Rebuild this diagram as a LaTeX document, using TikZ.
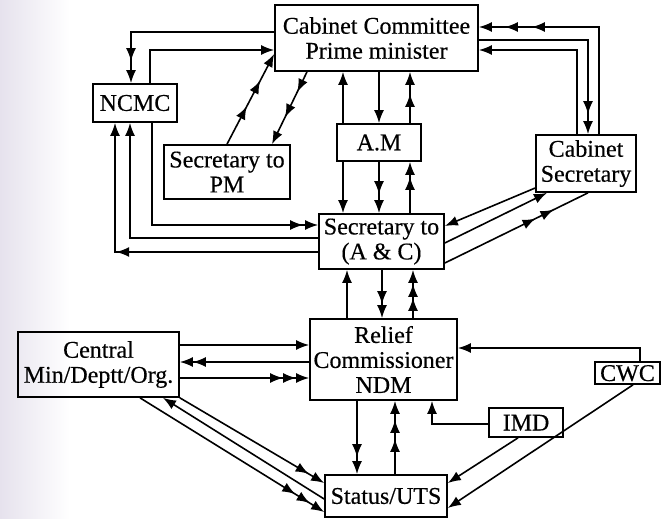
\documentclass[tikz,border=0pt]{standalone}
\usepackage{fontspec}
\setmainfont{Liberation Serif}[FakeBold=0.4]
\usetikzlibrary{arrows.meta,decorations.markings,calc}
\definecolor{pagel}{RGB}{230,226,237}
\tikzset{myt/.tip={Latex[length=13pt,width=10pt]}}
\begin{document}
\begin{tikzpicture}[x=1pt,y=-1pt,
  line width=1.6pt,
  box/.style={draw, line width=1.7pt, inner sep=0pt, align=center,
    font=\fontsize{24}{25}\selectfont},
  arr/.style={-{myt}},
  mk/.style={postaction={decorate,decoration={markings,
    mark=at position #1 with {\arrow{myt}}}}}
]
\useasboundingbox (0,0) rectangle (661,519);
\fill[left color=pagel, right color=white, draw=none] (0,0) rectangle (70,519);

% nodes
\node[box, minimum width=203pt, minimum height=66pt] (cc) at (376.5,38) {Cabinet Committee\\Prime minister};
\node[box, minimum width=84pt, minimum height=38pt] (ncmc) at (135,103) {NCMC};
\node[box, minimum width=126pt, minimum height=54pt] (spm) at (227,172) {Secretary to\\PM};
\node[box, minimum width=84pt, minimum height=37pt] (am) at (379,142.5) {A.M};
\node[box, minimum width=100pt, minimum height=57pt] (cabsec) at (586,163.5) {Cabinet\\Secretary};
\node[box, minimum width=125pt, minimum height=55pt] (sac) at (381.5,241.5) {Secretary to\\(A \& C)};
\node[box, minimum width=147pt, minimum height=81pt] (rc) at (383.5,359.5) {Relief\\Commissioner\\NDM};
\node[box, minimum width=161pt, minimum height=65pt] (cent) at (98.5,364.5) {Central\\Min/Deptt/Org.};
\node[box, minimum width=65pt, minimum height=22pt, text height=16pt, text depth=0pt] (cwc) at (627.5,373) {CWC};
\node[box, minimum width=74pt, minimum height=29pt, text height=16pt, text depth=0pt] (imd) at (526,422.5) {IMD};
\node[box, minimum width=122pt, minimum height=42pt] (sts) at (386,496) {Status/UTS};

% CC <-> NCMC
\draw[arr, mk=-22pt] (cc.west |- 0,32) -| (ncmc.north -| 131,0);
\draw[arr] (ncmc.north -| 150,0) |- (cc.west |- 0,50);
% SPM <-> CC
\draw[arr, mk=-30pt, mk=-59pt] (spm.north -| 227,0) -- (cc.west |- 0,54);
\draw[arr, mk=-30pt, mk=-58pt] (cc.south -| 307,0) -- (spm.north -| 272,0);
% CC <-> AM
\draw[arr] (am.north -| 343,0) -- (cc.south -| 343,0);
\draw[arr] (cc.south -| 379,0) -- (am.north -| 379,0);
\draw[arr, mk=-22pt] (am.north -| 410,0) -- (cc.south -| 410,0);
% AM <-> SAC
\draw[arr] (am.south -| 343,0) -- (sac.north -| 343,0);
\draw[arr, mk=-19pt] (am.south -| 379,0) -- (sac.north -| 379,0);
\draw[arr, mk=-15pt] (sac.north -| 410,0) -- (am.south -| 410,0);
% SAC <-> RC
\draw[arr] (rc.north -| 347,0) -- (sac.south -| 347,0);
\draw[arr, mk=-14pt] (sac.south -| 382,0) -- (rc.north -| 382,0);
\draw[arr, mk=-14pt, mk=-28pt] (rc.north -| 413,0) -- (sac.south -| 413,0);
% NCMC <-> SAC
\draw[arr, mk=-15pt] (ncmc.south -| 152,0) |- (sac.west |- 0,225);
\draw[arr] (sac.west |- 0,238) -| (ncmc.south -| 130,0);
\draw[arr, mk=202pt] (sac.west |- 0,252) -| (ncmc.south -| 115,0);
% CabSec <-> SAC
\draw[arr] (cabsec.west |- 0,188) -- (sac.east |- 0,226);
\draw[arr] (sac.east |- 0,243) -- (cabsec.south -| 547,0);
\draw[mk=101pt, mk=121pt] (sac.east |- 0,263) -- (cabsec.south -| 588,0);
% CC <-> CabSec
\draw[arr, mk=-26pt, mk=-53pt] (cabsec.north -| 599,0) |- (cc.east |- 0,27);
\draw[arr, mk=-20pt] (cc.east |- 0,40) -| (cabsec.north -| 588,0);
\draw[arr] (cabsec.north -| 577,0) |- (cc.east |- 0,50);
% Central <-> RC
\draw[arr] (cent.east |- 0,345) -- (rc.west |- 0,345);
\draw[arr, mk=-13pt] (rc.west |- 0,362) -- (cent.east |- 0,362);
\draw[arr, mk=-13pt, mk=-26pt] (cent.east |- 0,378) -- (rc.west |- 0,378);
% Central <-> Status
\draw[arr, mk=-18pt] (cent.south east) -- (sts.west |- 0,483);
\draw[arr] (sts.west |- 0,499) -- (cent.south -| 163,0);
\draw[arr, mk=-17pt, mk=-34pt] (cent.south -| 140,0) -- (sts.west |- 0,512);
% RC <-> Status
\draw[arr, mk=-17pt] (rc.south -| 357,0) -- (sts.north -| 357,0);
\draw[arr, mk=-19pt, mk=-38pt] (sts.north -| 395,0) -- (rc.south -| 395,0);
\draw[arr] (imd.west |- 0,424) -| (rc.south -| 432,0);
% CWC, IMD
\draw[arr] (cwc.north -| 640,0) |- (rc.east |- 0,348);
\draw[arr] (imd.south -| 518,0) -- (sts.east |- 0,483);
\draw[arr] (cwc.south -| 633,0) -- (sts.east |- 0,508);
\end{tikzpicture}
\end{document}
